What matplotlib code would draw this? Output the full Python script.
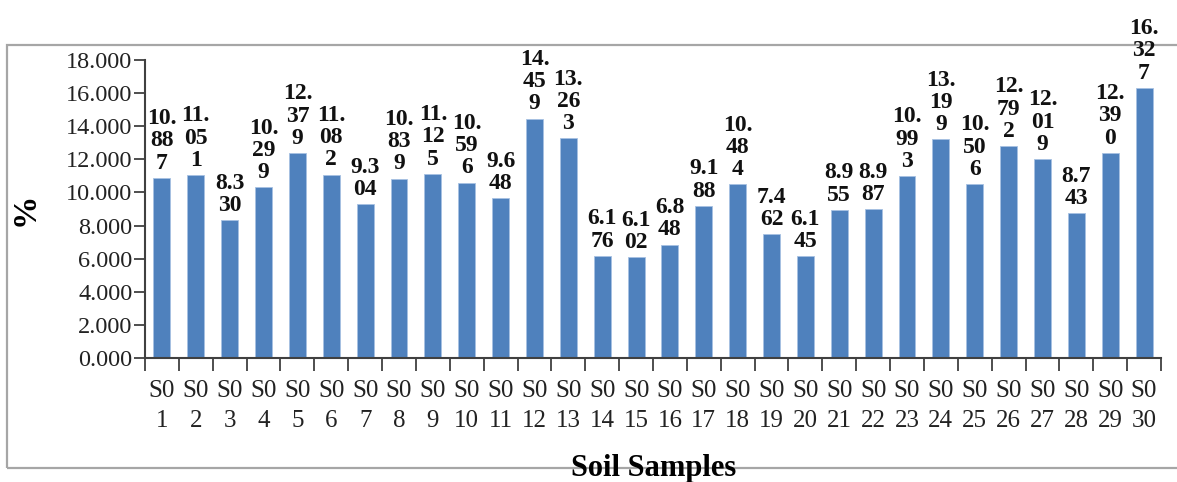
import matplotlib.pyplot as plt
import numpy as np
from matplotlib.patches import Rectangle
from matplotlib.ticker import MultipleLocator, FixedLocator, NullFormatter, FormatStrFormatter

plt.rcParams['font.family'] = ['Liberation Serif', 'DejaVu Serif']

samples = ['S0\n%d' % i for i in range(1, 31)]
values = [10.887, 11.051, 8.330, 10.299, 12.379, 11.082, 9.304, 10.839, 11.125, 10.596,
          9.648, 14.459, 13.263, 6.176, 6.102, 6.848, 9.188, 10.484, 7.462, 6.145,
          8.955, 8.987, 10.993, 13.199, 10.506, 12.792, 12.019, 8.743, 12.390, 16.327]


def wrap_label(v):
    # narrow cells: break the number wherever it gets wider than ~2.5 digits
    s = '%.3f' % v
    lines, cur, w = [], '', 0.0
    for ch in s:
        cw = 0.5 if ch == '.' else 1.0
        if w + cw > 2.5:
            lines.append(cur)
            cur, w = '', 0.0
        cur += ch
        w += cw
    lines.append(cur)
    return '\n'.join(lines)


fig = plt.figure(figsize=(11.77, 4.82), dpi=100)
ax = fig.add_axes([0.1232, 0.2573, 0.8632, 0.6183])

x = np.arange(len(values))
ax.bar(x, values, width=0.5, color='#4F81BD', edgecolor='#A7C1E2', linewidth=0.6)

for xi, v in zip(x, values):
    ax.text(xi, v + 0.25, wrap_label(v), ha='center', va='bottom', fontsize=17,
            fontweight='bold', linespacing=1.08, color='#111111', clip_on=False)

ax.set_xlim(-0.5, len(values) - 0.5)
ax.set_ylim(0, 18)
ax.yaxis.set_major_locator(MultipleLocator(2))
ax.yaxis.set_major_formatter(FormatStrFormatter('%.3f'))

ax.xaxis.set_major_locator(FixedLocator(np.arange(-0.5, len(values), 1.0)))
ax.xaxis.set_major_formatter(NullFormatter())
ax.xaxis.set_minor_locator(FixedLocator(x))
ax.set_xticklabels(samples, minor=True, linespacing=1.45)
ax.tick_params(axis='x', which='major', direction='out', length=9, width=1.3, color='#404040')
ax.tick_params(axis='x', which='minor', length=0, pad=16, labelsize=18, labelcolor='#222222')
ax.tick_params(axis='y', direction='out', length=8, width=1.3, color='#404040',
               labelsize=17.5, labelcolor='#222222', pad=1)

for s in ['top', 'right']:
    ax.spines[s].set_visible(False)
for s in ['left', 'bottom']:
    ax.spines[s].set_color('#404040')
    ax.spines[s].set_linewidth(1.5)

fig.text(0.021, 0.566, '%', rotation=90, ha='center', va='center', fontsize=24, fontweight='bold')
fig.text(0.555, 0.028, 'Soil Samples', ha='center', va='center', fontsize=22, fontweight='bold')

# chart area frame, running off the right edge
frame = Rectangle((0.006, 0.029), 1.2, 0.878, transform=fig.transFigure, fill=False,
                  edgecolor='#A6A6A6', linewidth=1.6, zorder=-1)
fig.patches.append(frame)

fig.savefig('out.png', dpi=100)
